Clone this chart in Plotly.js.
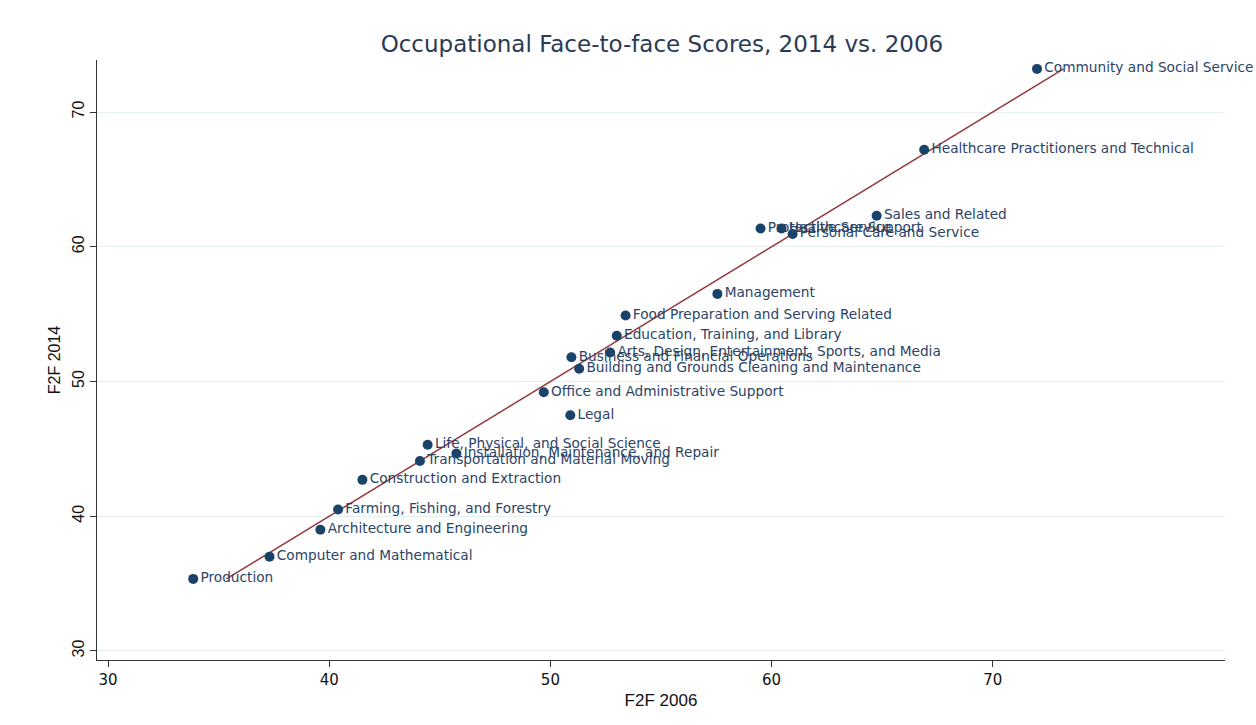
<!DOCTYPE html>
<html><head><meta charset="utf-8">
<script src="https://cdn.plot.ly/plotly-3.0.1.min.js"></script>
<style>body{margin:0;background:#fff}#c{width:1256px;height:725px}</style>
</head><body><div id="c"></div>
<script>
const occupations = ["Community and Social Service","Healthcare Practitioners and Technical","Sales and Related","Protective Service","Healthcare Support","Personal Care and Service","Management","Food Preparation and Serving Related","Education, Training, and Library","Arts, Design, Entertainment, Sports, and Media","Business and Financial Operations","Building and Grounds Cleaning and Maintenance","Office and Administrative Support","Legal","Life, Physical, and Social Science","Installation, Maintenance, and Repair","Transportation and Material Moving","Construction and Extraction","Farming, Fishing, and Forestry","Architecture and Engineering","Computer and Mathematical","Production"];
const f2f2006 = [72.0,66.9,64.75,59.5,60.45,60.95,57.55,53.4,53.0,52.7,50.95,51.3,49.7,50.9,44.45,45.75,44.1,41.5,40.4,39.6,37.3,33.85];
const f2f2014 = [73.2,67.2,62.3,61.35,61.35,60.95,56.5,54.9,53.4,52.15,51.8,50.95,49.2,47.5,45.3,44.65,44.1,42.7,40.5,39.0,37.0,35.35];
const fitX = [35.35,73.2];
const fitY = [35.35,73.2];
const xTicks = [30,40,50,60,70];
const yTicks = [30,40,50,60,70];

const font = '"DejaVu Sans", sans-serif';
const afont = '"Liberation Sans", Arial, sans-serif';
const traces = [
  {x: fitX, y: fitY, mode:'lines', type:'scatter', line:{color:'#96393d', width:1.5}, hoverinfo:'skip', showlegend:false},
  {x: f2f2006, y: f2f2014, text: occupations, mode:'markers+text', type:'scatter', textposition:'middle right', cliponaxis:false,
   marker:{color:'#1a436b', size:10}, textfont:{family:font, size:13.7, color:'#2b4466'}, showlegend:false}
];
const layout = {
  width:1256, height:725,
  margin:{l:97, r:31, t:60, b:65},
  paper_bgcolor:'#fff', plot_bgcolor:'#fff',
  title:{text:'Occupational Face-to-face Scores, 2014 vs. 2006', x:0.527, xanchor:'center', y:0.94, yanchor:'middle', font:{family:font, size:23, color:'#2b3a55'}},
  xaxis:{range:[29.5,80.5], tickvals:xTicks, ticktext:xTicks.map(String), showgrid:false, zeroline:false,
    showline:true, linecolor:'#333', linewidth:1, ticks:'outside', ticklen:6, tickcolor:'#333',
    tickfont:{family:font, size:15, color:'#111'},
    title:{text:'F2F 2006', font:{family:afont, size:17, color:'#111'}, standoff:6}},
  yaxis:{range:[29.33,73.86], tickvals:yTicks, ticktext:yTicks.map(String), showgrid:true, gridcolor:'#e6f0f0', gridwidth:1, zeroline:false,
    showline:true, linecolor:'#333', linewidth:1, ticks:'outside', ticklen:6, tickcolor:'#333', tickangle:-90,
    tickfont:{family:afont, size:16, color:'#111'},
    title:{text:'F2F 2014', font:{family:afont, size:16, color:'#111'}, standoff:4}}
};
Plotly.newPlot('c', traces, layout, {displayModeBar:false, staticPlot:true});
</script></body></html>
